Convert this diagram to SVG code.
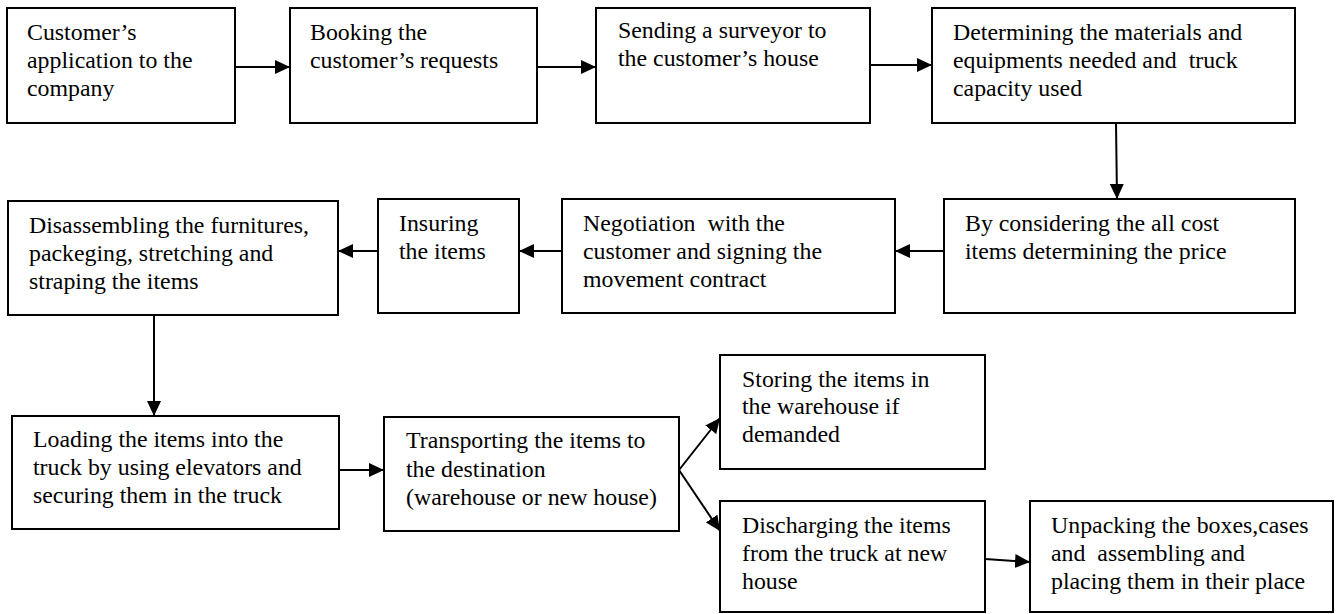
<svg xmlns="http://www.w3.org/2000/svg" width="1341" height="614" viewBox="0 0 1341 614">
  <style>
    .box { fill: #ffffff; stroke: #000000; stroke-width: 2; }
    .lbl { font-family: "Liberation Serif", "Times New Roman", serif; font-size: 22.5px; fill: #000000; }
    .edge { fill: none; stroke: #000000; stroke-width: 2; marker-end: url(#head); }
  </style>
  <defs>
    <marker id="head" markerUnits="userSpaceOnUse" markerWidth="15" markerHeight="14" refX="15" refY="7" orient="auto">
      <path d="M0,0 L15,7 L0,14 Z" fill="#000000"/>
    </marker>
  </defs>
  <rect width="1341" height="614" fill="#ffffff"/>

  <!-- row 1 -->
  <g id="n1">
    <rect class="box" x="7" y="8" width="228" height="115"/>
    <g transform="translate(27 0) scale(1.06 1)">
      <text class="lbl"><tspan x="0" y="40">Customer’s</tspan><tspan x="0" y="68">application to the</tspan><tspan x="0" y="96">company</tspan></text>
    </g>
  </g>
  <g id="n2">
    <rect class="box" x="290" y="8" width="247" height="115"/>
    <g transform="translate(310 0) scale(1.06 1)">
      <text class="lbl"><tspan x="0" y="40">Booking the</tspan><tspan x="0" y="68">customer’s requests</tspan></text>
    </g>
  </g>
  <g id="n3">
    <rect class="box" x="596" y="8" width="274" height="115"/>
    <g transform="translate(618 0) scale(1.06 1)">
      <text class="lbl"><tspan x="0" y="38">Sending a surveyor to</tspan><tspan x="0" y="66">the customer’s house</tspan></text>
    </g>
  </g>
  <g id="n4">
    <rect class="box" x="932" y="8" width="363" height="115"/>
    <g transform="translate(953 0) scale(1.06 1)">
      <text class="lbl" xml:space="preserve"><tspan x="0" y="40">Determining the materials and</tspan><tspan x="0" y="68">equipments needed and  truck</tspan><tspan x="0" y="96">capacity used</tspan></text>
    </g>
  </g>

  <!-- row 2 -->
  <g id="n5">
    <rect class="box" x="944" y="199" width="351" height="114"/>
    <g transform="translate(965 0) scale(1.06 1)">
      <text class="lbl"><tspan x="0" y="231">By considering the all cost</tspan><tspan x="0" y="259">items determining the price</tspan></text>
    </g>
  </g>
  <g id="n6">
    <rect class="box" x="562" y="199" width="333" height="114"/>
    <g transform="translate(583 0) scale(1.06 1)">
      <text class="lbl" xml:space="preserve"><tspan x="0" y="231">Negotiation  with the</tspan><tspan x="0" y="259">customer and signing the</tspan><tspan x="0" y="287">movement contract</tspan></text>
    </g>
  </g>
  <g id="n7">
    <rect class="box" x="378" y="199" width="141" height="114"/>
    <g transform="translate(399 0) scale(1.06 1)">
      <text class="lbl"><tspan x="0" y="231">Insuring</tspan><tspan x="0" y="259">the items</tspan></text>
    </g>
  </g>
  <g id="n8">
    <rect class="box" x="8" y="201" width="330" height="114"/>
    <g transform="translate(29 0) scale(1.06 1)">
      <text class="lbl"><tspan x="0" y="233">Disassembling the furnitures,</tspan><tspan x="0" y="261">packeging, stretching and</tspan><tspan x="0" y="289">straping the items</tspan></text>
    </g>
  </g>

  <!-- row 3 -->
  <g id="n9">
    <rect class="box" x="12" y="416" width="327" height="113"/>
    <g transform="translate(33 0) scale(1.06 1)">
      <text class="lbl"><tspan x="0" y="447">Loading the items into the</tspan><tspan x="0" y="475">truck by using elevators and</tspan><tspan x="0" y="503">securing them in the truck</tspan></text>
    </g>
  </g>
  <g id="n10">
    <rect class="box" x="384" y="417" width="295" height="114"/>
    <g transform="translate(406 0) scale(1.06 1)">
      <text class="lbl"><tspan x="0" y="448">Transporting the items to</tspan><tspan x="0" y="477">the destination</tspan><tspan x="0" y="505">(warehouse or new house)</tspan></text>
    </g>
  </g>
  <g id="n11">
    <rect class="box" x="720" y="355" width="265" height="114"/>
    <g transform="translate(742 0) scale(1.06 1)">
      <text class="lbl"><tspan x="0" y="387">Storing the items in</tspan><tspan x="0" y="414">the warehouse if</tspan><tspan x="0" y="442">demanded</tspan></text>
    </g>
  </g>
  <g id="n12">
    <rect class="box" x="720" y="501" width="265" height="111"/>
    <g transform="translate(742 0) scale(1.06 1)">
      <text class="lbl"><tspan x="0" y="533">Discharging the items</tspan><tspan x="0" y="561">from the truck at new</tspan><tspan x="0" y="589">house</tspan></text>
    </g>
  </g>
  <g id="n13">
    <rect class="box" x="1030" y="501" width="303" height="111"/>
    <g transform="translate(1051 0) scale(1.06 1)">
      <text class="lbl" xml:space="preserve"><tspan x="0" y="533">Unpacking the boxes,cases</tspan><tspan x="0" y="561">and  assembling and</tspan><tspan x="0" y="589">placing them in their place</tspan></text>
    </g>
  </g>

  <!-- connectors -->
  <g id="connectors">
    <line class="edge" x1="235" y1="67" x2="290" y2="67"/>
    <line class="edge" x1="537" y1="67" x2="596" y2="67"/>
    <line class="edge" x1="870" y1="65" x2="932" y2="65"/>
    <line class="edge" x1="1116" y1="123" x2="1117" y2="199"/>
    <line class="edge" x1="944" y1="251" x2="895" y2="251"/>
    <line class="edge" x1="562" y1="251" x2="519" y2="251"/>
    <line class="edge" x1="378" y1="251" x2="338" y2="251"/>
    <line class="edge" x1="154" y1="315" x2="154" y2="416"/>
    <line class="edge" x1="339" y1="470" x2="384" y2="470"/>
    <line class="edge" x1="679" y1="470" x2="720" y2="418"/>
    <line class="edge" x1="679" y1="470" x2="720" y2="531"/>
    <line class="edge" x1="985" y1="559" x2="1030" y2="562"/>
  </g>
</svg>
